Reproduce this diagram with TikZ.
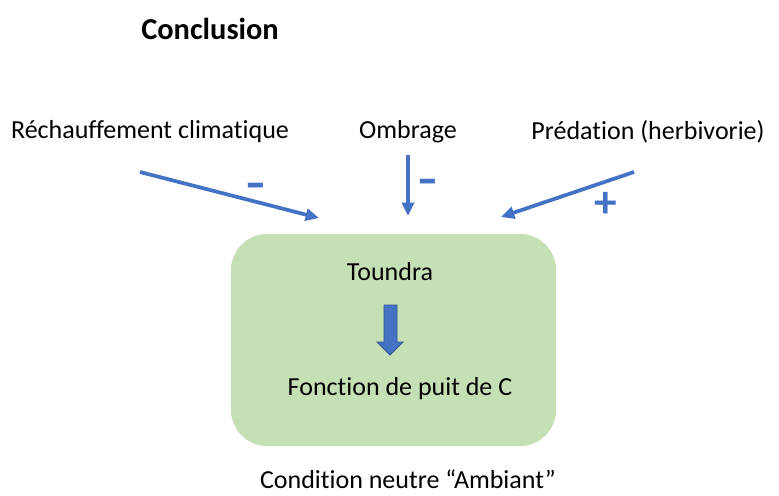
\documentclass[tikz,border=0pt]{standalone}
\usepackage{fontspec}
\usepackage{graphicx}
\setmainfont[Ligatures=NoCommon]{Carlito}
\usetikzlibrary{arrows.meta}
\definecolor{boxgreen}{HTML}{C5E0B4}
\definecolor{arrblue}{HTML}{4472C4}
\definecolor{arrdark}{HTML}{2F528F}
\begin{document}
\begin{tikzpicture}[x=0.75pt,y=-0.75pt,
  lbl/.style={font=\fontsize{19.5}{22}\selectfont, inner sep=0pt, anchor=center},
  sgn/.style={font=\bfseries\fontsize{34}{36}\selectfont, text=arrblue, inner sep=0pt},
  inflow/.style={draw=arrblue, line width=2.8pt, -{Triangle[length=10pt,width=9pt]}},
  blockarrow/.style={fill=arrblue, draw=arrdark, line width=0.6pt}]
\useasboundingbox (0,0) rectangle (779,496);
\node[fill=boxgreen, rounded corners=27pt, minimum width=325*0.75pt, minimum height=212*0.75pt, inner sep=0pt] (box) at (393.5,340) {};
\node[font=\bfseries\fontsize{22.8}{26}\selectfont, inner sep=0pt] (title) at (210,29) {Conclusion};
\node[lbl] (rech) at (150,132) {Réchauffement climatique};
\node[lbl] (omb) at (408,132) {Ombrage};
\node[lbl] (pred) at (648,132) {Prédation (herbivorie)};
\node[lbl] (toun) at (390,272) {Toundra};
\node[lbl] (fonc) at (400,389) {Fonction de puit de C};
\node[lbl] (cond) at (408,479) {Condition neutre “Ambiant”};
\coordinate (a1s) at (140,172); \coordinate (a1e) at (319,218);
\coordinate (a2s) at (408,155); \coordinate (a2e) at (408,216);
\coordinate (a3s) at (634,172); \coordinate (a3e) at (501,217);
\draw[inflow] (a1s) -- (a1e);
\draw[inflow] (a2s) -- (a2e);
\draw[inflow] (a3s) -- (a3e);
\node[sgn] (m1) at (256,191) {\scalebox{1.35}[1]{-}};
\node[sgn] (m2) at (428,187) {\scalebox{1.35}[1]{-}};
\node[sgn] (p3) at (606,205) {+};
\draw[blockarrow] (384,305) -- (397,305) -- (397,342) -- (403,342) -- (390,355)
  -- (377,342) -- (384,342) -- cycle;
\end{tikzpicture}
\end{document}
